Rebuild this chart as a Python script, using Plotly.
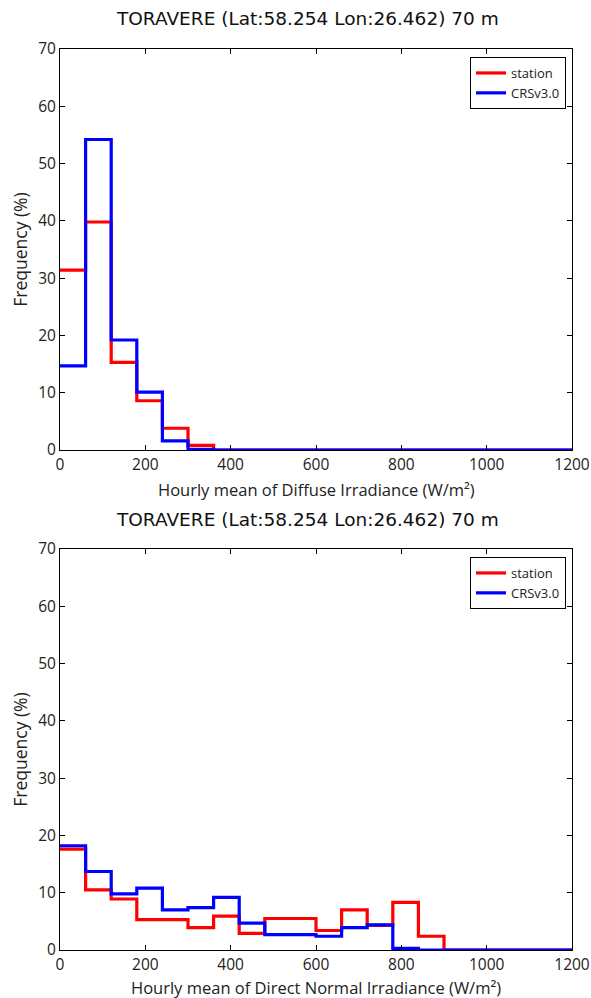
import plotly.graph_objects as go

bin_edges = [i * 60 for i in range(21)]

diffuse_station = [31.4, 39.8, 15.3, 8.6, 3.8, 0.8, 0, 0, 0, 0, 0, 0, 0, 0, 0, 0, 0, 0, 0, 0]
diffuse_crs = [14.7, 54.2, 19.2, 10.1, 1.6, 0.1, 0, 0, 0, 0, 0, 0, 0, 0, 0, 0, 0, 0, 0, 0]

dni_station = [17.6, 10.5, 8.9, 5.3, 5.3, 3.9, 5.9, 2.9, 5.5, 5.5, 3.4, 7.0, 4.3, 8.3, 2.4, 0, 0, 0, 0, 0]
dni_crs = [18.2, 13.7, 9.8, 10.8, 7.0, 7.4, 9.2, 4.7, 2.7, 2.7, 2.4, 3.9, 4.4, 0.3, 0, 0, 0, 0, 0, 0]

title_text = "TORAVERE (Lat:58.254 Lon:26.462) 70 m"
x_titles = ["Hourly mean of Diffuse Irradiance (W/m²)", "Hourly mean of Direct Normal Irradiance (W/m²)"]
series_names = ["station", "CRSv3.0"]
colors = ["#ff0000", "#0000ff"]

FONT = "Open Sans"
TFONT = "DejaVu Sans"

W, H = 591, 998


def px_x(p):
    return p / W


def px_y(p):
    return 1 - p / H


def step_xy(vals):
    xs = list(bin_edges)
    ys = list(vals) + [vals[-1]]
    return xs, ys


fig = go.Figure()

panels = [(diffuse_station, diffuse_crs), (dni_station, dni_crs)]
for pi, (st, crs) in enumerate(panels):
    xa = "x" if pi == 0 else "x2"
    ya = "y" if pi == 0 else "y2"
    lg = "legend" if pi == 0 else "legend2"
    for name, vals, col in zip(series_names, (st, crs), colors):
        xs, ys = step_xy(vals)
        fig.add_trace(go.Scatter(
            x=xs, y=ys, mode="lines", line=dict(color=col, width=3.2, shape="hv"),
            name=name, xaxis=xa, yaxis=ya, legend=lg, hoverinfo="skip", cliponaxis=True,
        ))

x_dom = [px_x(60), px_x(572)]
y_doms = [[px_y(450), px_y(49)], [px_y(950), px_y(549)]]
title_y = [px_y(19), px_y(519)]
xtitle_y = [px_y(489), px_y(987)]

axis_common = dict(
    showgrid=False, zeroline=False, showline=True, linecolor="black", linewidth=1,
    mirror="ticks", ticks="inside", ticklen=5, tickcolor="black", automargin=False,
    tickfont=dict(family=FONT, size=15.5, color="#222"),
)

layout = dict(
    width=W, height=H,
    margin=dict(l=0, r=0, t=0, b=0),
    paper_bgcolor="white", plot_bgcolor="white",
    font=dict(family=FONT, color="#222"),
)

for pi in range(2):
    sx = "" if pi == 0 else "2"
    layout["xaxis" + sx] = dict(
        axis_common, domain=x_dom, anchor="y" + sx, range=[0, 1200], tickvals=list(range(0, 1201, 200)),
        ticklabeloverflow="allow",
    )
    layout["yaxis" + sx] = dict(
        axis_common, domain=y_doms[pi], anchor="x" + sx, range=[0, 70], tickvals=list(range(0, 71, 10)),
        title=dict(text="Frequency (%)", font=dict(family=FONT, size=17.5, color="#222"), standoff=6),
        ticklabeloverflow="allow",
    )
    layout["legend" + sx] = dict(
        x=px_x(566), xanchor="right", y=y_doms[pi][1] - 8 / H, yanchor="top",
        bgcolor="white", bordercolor="black", borderwidth=1,
        font=dict(family=FONT, size=13, color="#222"),
        tracegroupgap=0, itemwidth=30,
    )

fig.update_layout(**layout)

for ty in title_y:
    fig.add_annotation(text=title_text, x=(x_dom[0] + x_dom[1]) / 2 - 9 / W, xref="paper", y=ty, yref="paper",
                       showarrow=False, font=dict(family=TFONT, size=18.5, color="#111"), yanchor="middle")

for pi, ty in enumerate(xtitle_y):
    fig.add_annotation(text=x_titles[pi], x=(x_dom[0] + x_dom[1]) / 2, xref="paper", y=ty, yref="paper",
                       showarrow=False, font=dict(family=FONT, size=16.5, color="#222"), yanchor="middle")

fig.write_html(
    "out.html",
    config={"displayModeBar": False},
    post_script="document.body.style.margin='0';document.body.style.overflow='hidden';",
)
